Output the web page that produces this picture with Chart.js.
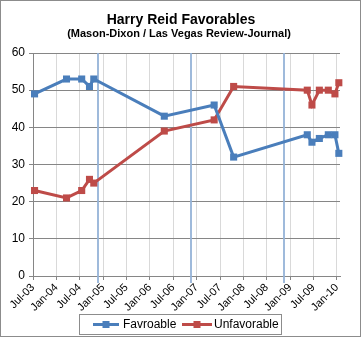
<!DOCTYPE html>
<html><head><meta charset="utf-8">
<script src="https://cdn.jsdelivr.net/npm/chart.js@4/dist/chart.umd.min.js"></script>
<style>html,body{margin:0;padding:0;background:#fff}#wrap{width:363px;height:338px;position:relative}</style>
</head><body><div id="wrap"><canvas id="c" width="363" height="338"></canvas></div>
<script>
// months since Jul-2003
const pollMonth = [0.4, 8.6, 12.5, 14.5, 15.6, 33.7, 46.5, 51.5, 70.4, 71.6, 73.5, 75.8, 77.5, 78.5];
const favorable = [49, 53, 53, 51, 53, 43, 46, 32, 38, 36, 37, 38, 38, 33];
const unfavorable = [23, 21, 23, 26, 25, 39, 42, 51, 50, 46, 50, 50, 49, 52];
const tickMonth = [0, 6, 12, 18, 24, 30, 36, 42, 48, 54, 60, 66, 72, 78];
const tickLabels = ['Jul-03','Jan-04','Jul-04','Jan-05','Jul-05','Jan-06','Jul-06','Jan-07','Jul-07','Jan-08','Jul-08','Jan-09','Jul-09','Jan-10'];
const electionMonth = [16.6, 40.6, 64.5];
const seriesNames = ['Favroable', 'Unfavorable'];
const titleText = 'Harry Reid Favorables';
const subtitleText = '(Mason-Dixon / Las Vegas Review-Journal)';

const BLUE = '#4A7EBB', RED = '#BE4B48';
const FONT = '"Liberation Sans", Arial, sans-serif';

const toPts = (ys) => pollMonth.map((m, i) => ({x: m, y: ys[i]}));

const decor = {
  id: 'decor',
  beforeDraw(chart) {
    const ctx = chart.ctx;
    ctx.save();
    ctx.fillStyle = '#fff';
    ctx.fillRect(0, 0, chart.width, chart.height);
    ctx.restore();
  },
  beforeDatasetsDraw(chart) {
    const ctx = chart.ctx, x = chart.scales.x, a = chart.chartArea;
    ctx.save();
    ctx.strokeStyle = 'rgba(149,179,215,0.9)';
    ctx.lineWidth = 2;
    electionMonth.forEach(m => {
      const px = Math.round(x.getPixelForValue(m));
      ctx.beginPath();
      ctx.moveTo(px, a.top);
      ctx.lineTo(px, a.bottom + 7);
      ctx.stroke();
    });
    ctx.restore();
  },
  afterDraw(chart) {
    const ctx = chart.ctx;
    ctx.save();
    ctx.strokeStyle = '#8c8c8c';
    ctx.lineWidth = 1;
    ctx.strokeRect(0.5, 0.5, 360, 336);
    ctx.fillStyle = '#000';
    ctx.textAlign = 'center';
    ctx.textBaseline = 'middle';
    ctx.font = 'bold 14px ' + FONT;
    ctx.fillText(titleText, 181, 20);
    ctx.font = 'bold 11px ' + FONT;
    ctx.fillText(subtitleText, 179, 34);
    ctx.strokeStyle = '#8c8c8c';
    ctx.strokeRect(79.5, 314.5, 202, 20);
    const items = [{c: BLUE, x0: 93, x1: 119, tx: 123, t: seriesNames[0]}, {c: RED, x0: 182, x1: 212, tx: 214, t: seriesNames[1]}];
    const ly = 324.5;
    items.forEach(it => {
      ctx.strokeStyle = it.c; ctx.lineWidth = 3;
      ctx.beginPath(); ctx.moveTo(it.x0, ly); ctx.lineTo(it.x1, ly); ctx.stroke();
      ctx.fillStyle = it.c;
      const cx = (it.x0 + it.x1) / 2;
      ctx.fillRect(cx - 3.5, ly - 3.5, 7, 7);
      ctx.fillStyle = '#000';
      ctx.textAlign = 'left';
      ctx.font = '12px ' + FONT;
      ctx.fillText(it.t, it.tx, ly + 0.5);
    });
    ctx.restore();
  }
};

new Chart(document.getElementById('c'), {
  type: 'line',
  data: {
    datasets: [
      {label: seriesNames[0], data: toPts(favorable), borderColor: BLUE, backgroundColor: BLUE, borderWidth: 3, pointStyle: 'rect', pointRadius: 5, pointBorderWidth: 0, tension: 0, clip: false},
      {label: seriesNames[1], data: toPts(unfavorable), borderColor: RED, backgroundColor: RED, borderWidth: 3, pointStyle: 'rect', pointRadius: 5, pointBorderWidth: 0, tension: 0, clip: false}
    ]
  },
  options: {
    responsive: false,
    animation: false,
    devicePixelRatio: 1,
    layout: {padding: {top: 53, left: 0, right: 23, bottom: 0}},
    plugins: {legend: {display: false}, tooltip: {enabled: false}, title: {display: false}},
    scales: {
      x: {
        type: 'linear', min: 0, max: 78.8,
        afterBuildTicks: (s) => { s.ticks = tickMonth.map(v => ({value: v})); },
        afterFit: (s) => { s.height = 62; },
        ticks: {
          autoSkip: false, minRotation: 45, maxRotation: 45, padding: 1,
          color: '#000', font: {family: FONT, size: 11},
          callback: (v) => { const i = tickMonth.indexOf(v); return i >= 0 ? tickLabels[i] : ''; }
        },
        grid: {color: '#d9d9d9', lineWidth: 1, tickColor: '#868686', tickLength: 4},
        border: {color: '#868686', width: 1}
      },
      y: {
        min: 0, max: 60,
        afterFit: (s) => { s.width = 33; },
        ticks: {stepSize: 10, color: '#000', font: {family: FONT, size: 12}, padding: 4},
        grid: {color: '#868686', lineWidth: 1, tickColor: '#868686', tickLength: 4},
        border: {color: '#868686', width: 1}
      }
    }
  },
  plugins: [decor]
});
</script>
</body></html>
